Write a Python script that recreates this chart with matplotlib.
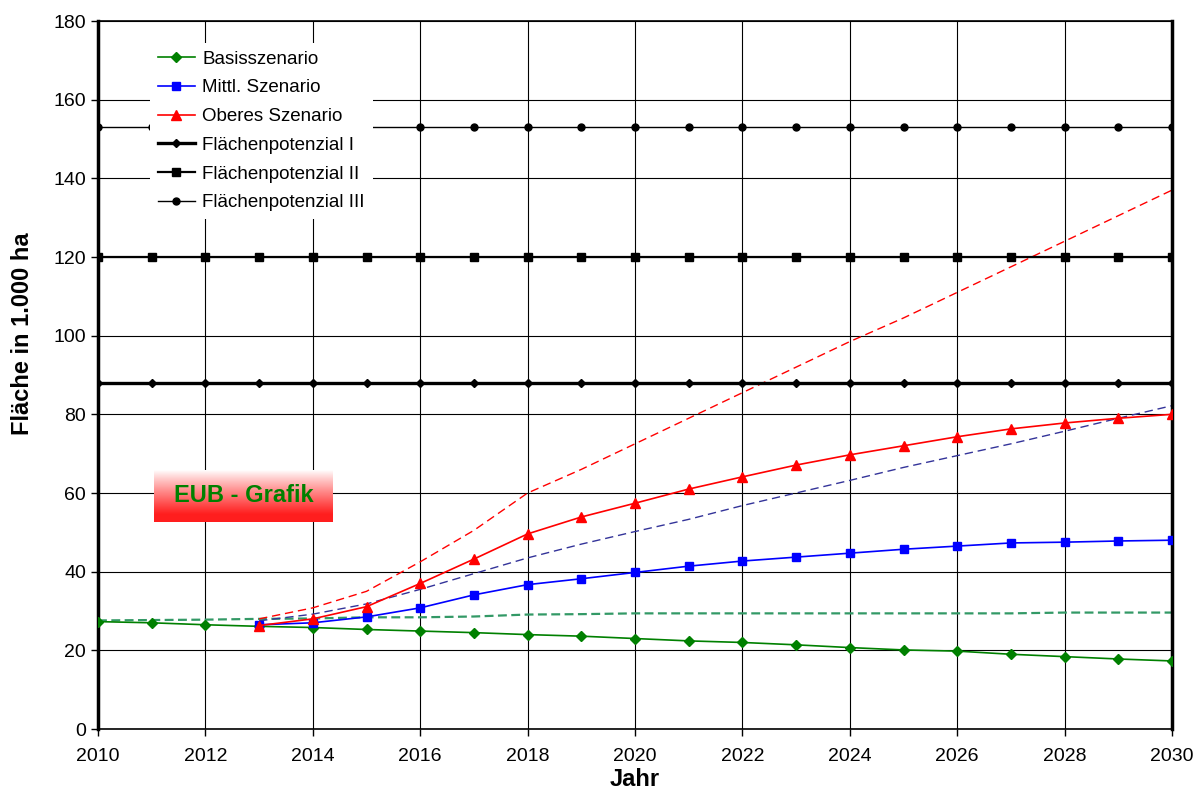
import numpy as np
import matplotlib.pyplot as plt

plt.rcParams['font.family'] = ['Liberation Sans', 'DejaVu Sans']

# years
years = np.arange(2010, 2031)
years_s = np.arange(2013, 2031)

# scenarios (1.000 ha)
basis = [27.3, 27.0, 26.5, 26.1, 25.8, 25.3, 24.9, 24.5, 24.0, 23.6, 23.0,
         22.4, 22.0, 21.4, 20.7, 20.1, 19.8, 19.0, 18.4, 17.8, 17.3]
basis_dash = [27.6, 27.7, 27.8, 28.0, 28.1, 28.4, 28.4, 28.6, 29.1, 29.2, 29.4,
              29.4, 29.4, 29.4, 29.4, 29.4, 29.4, 29.4, 29.6, 29.6, 29.6]
mittl = [26.5, 27.0, 28.5, 30.8, 34.1, 36.7, 38.2, 39.8, 41.4, 42.7,
         43.7, 44.7, 45.7, 46.5, 47.3, 47.5, 47.8, 48.0]
mittl_dash = [27.5, 29.2, 31.8, 35.5, 39.5, 43.5, 47.0, 50.2, 53.3, 56.8,
              60.0, 63.2, 66.5, 69.5, 72.5, 75.7, 79.0, 82.2]
oberes = [26.3, 28.0, 31.1, 37.0, 43.2, 49.6, 53.9, 57.4, 61.0, 64.1,
          67.1, 69.7, 72.0, 74.3, 76.3, 77.8, 79.0, 80.0]
oberes_dash = [28.0, 30.8, 35.0, 42.5, 50.5, 60.0, 66.0, 72.5, 79.0, 85.5,
               92.0, 98.5, 104.5, 111.0, 117.5, 124.0, 130.5, 137.0]

# land potentials
pot_1 = [88] * len(years)
pot_2 = [120] * len(years)
pot_3 = [153] * len(years)

fig = plt.figure(figsize=(11.96, 7.96), dpi=100)
ax = fig.add_axes([98 / 1196, 1 - 729 / 796, 1074 / 1196, 708 / 796])

# dashed variants (not in legend)
ax.plot(years, basis_dash, color='#339966', lw=1.6, dashes=(4, 2), zorder=2)
ax.plot(years_s, mittl_dash, color='#333399', lw=1.0, dashes=(6, 3.5), zorder=2)
ax.plot(years_s, oberes_dash, color='#ff0000', lw=1.0, dashes=(6, 3.5), zorder=2)

ax.plot(years, basis, color='#008000', lw=1.2, marker='D', ms=5.5, label='Basisszenario', zorder=4)
ax.plot(years_s, mittl, color='#0000ff', lw=1.2, marker='s', ms=6, label='Mittl. Szenario', zorder=4)
ax.plot(years_s, oberes, color='#ff0000', lw=1.2, marker='^', ms=7, label='Oberes Szenario', zorder=4)
ax.plot(years, pot_1, color='black', lw=2.4, marker='D', ms=4.5, label='Flächenpotenzial I', zorder=3)
ax.plot(years, pot_2, color='black', lw=1.6, marker='s', ms=5.5, label='Flächenpotenzial II', zorder=3)
ax.plot(years, pot_3, color='black', lw=1.0, marker='o', ms=5, label='Flächenpotenzial III', zorder=3)

ax.set_xlim(2010, 2030)
ax.set_ylim(0, 180)
ax.set_xticks(np.arange(2010, 2031, 2))
ax.set_yticks(np.arange(0, 181, 20))
ax.grid(True, color='black', lw=0.8)
ax.tick_params(labelsize=14, length=5, width=1, direction='out')
ax.tick_params(axis='x', pad=9)
for s in ax.spines.values():
    s.set_linewidth(1.2)
ax.spines['left'].set_linewidth(2.5)
ax.spines['right'].set_linewidth(2.5)

ax.set_xlabel('Jahr', fontsize=17, fontweight='bold', labelpad=2)
ax.set_ylabel('Fläche in 1.000 ha', fontsize=17, fontweight='bold')
ax.yaxis.set_label_coords(-0.06, 0.559)

leg = ax.legend(loc='upper left', bbox_to_anchor=(150 / 1196, 1 - 43 / 796),
                bbox_transform=fig.transFigure, borderaxespad=0, fontsize=13.5,
                frameon=True, fancybox=False, framealpha=1, edgecolor='none',
                handlelength=2.0, labelspacing=0.62, handletextpad=0.4)
leg.set_zorder(10)

# gradient label box
bx = fig.add_axes([154 / 1196, 1 - 522 / 796, 179 / 1196, 52 / 796], zorder=5)
grad = np.linspace(0, 1, 100).reshape(-1, 1)
cols = np.ones((100, 1, 3))
t = np.clip(grad / 0.85, 0, 1) ** 0.9
cols[:, :, 1] = 1 - 0.88 * t
cols[:, :, 2] = 1 - 0.88 * t
bx.imshow(cols, aspect='auto', extent=(0, 1, 0, 1), origin='upper')
bx.text(0.5, 0.5, 'EUB - Grafik', color='#008000', fontsize=17, fontweight='bold',
        ha='center', va='center', transform=bx.transAxes)
bx.set_axis_off()

fig.savefig('out.png', dpi=100)
